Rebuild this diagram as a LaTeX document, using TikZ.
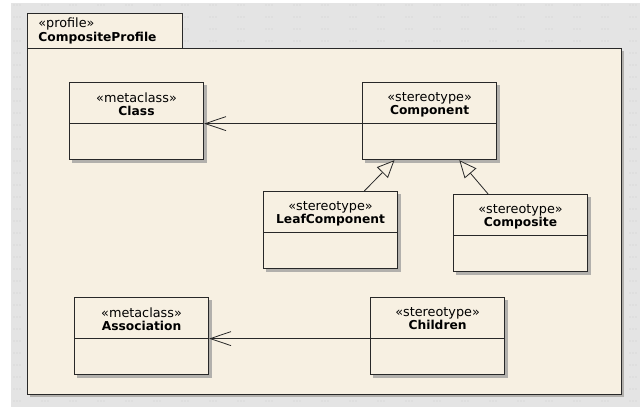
\documentclass[tikz,border=0pt]{standalone}
\usepackage{fontspec}
\setmainfont{DejaVu Sans}
\usepackage{tikz}
\usetikzlibrary{arrows.meta}
\usetikzlibrary{calc,positioning,shapes.multipart,backgrounds}

\definecolor{pkgfill}{RGB}{247,240,226}
\definecolor{canvas}{RGB}{228,228,228}
\definecolor{griddot}{RGB}{204,204,204}
\definecolor{umlline}{RGB}{40,40,40}
\definecolor{boxshadow}{RGB}{178,176,172}

% head of a class box: stereotype over bold name
\newcommand{\umlhead}[2]{\vbox to 30pt{\baselineskip=9.6pt\lineskiplimit=-20pt
  \vskip 7.2pt
  \hbox to 100.5pt{\hss\fontsize{9.6pt}{10pt}\selectfont «#1»\hss}
  \hbox to 100.5pt{\hss\fontsize{9.2pt}{10pt}\selectfont\bfseries #2\hss}\vss}}
\newcommand{\umlbody}{\rule{0pt}{26.25pt}}

\tikzset{
  umlbox/.style={rectangle split, rectangle split parts=2, draw=umlline,
    line width=0.8pt, fill=pkgfill, inner sep=0pt, anchor=north west},
  pkgtab/.style={draw=umlline, line width=0.8pt, fill=pkgfill, anchor=north west,
    minimum width=116.25pt, minimum height=26.25pt, inner sep=0pt,
    text width=110pt, align=left},
  assoc/.style={draw=umlline, line width=0.6pt, -{Straight Barb[length=15.5pt, width=10.5pt]}},
  gen/.style={draw=umlline, line width=0.6pt, -{Triangle[open, length=13pt, width=11.5pt, fill=pkgfill]}}
}

\begin{document}
\begin{tikzpicture}[x=0.75pt, y=-0.75pt]
    \useasboundingbox (0,0) rectangle (640,407);

    % classes
    \node[umlbox] (Class) at (69,82) {\umlhead{metaclass}{Class}\nodepart{two}\umlbody};
    \node[umlbox, right=118.5pt of Class] (Component) {\umlhead{stereotype}{Component}\nodepart{two}\umlbody};
    \node[umlbox] (LeafComponent) at (263,191) {\umlhead{stereotype}{LeafComponent}\nodepart{two}\umlbody};
    \node[umlbox] (Composite) at (453,194) {\umlhead{stereotype}{Composite}\nodepart{two}\umlbody};
    \node[umlbox] (Association) at (74,297) {\umlhead{metaclass}{Association}\nodepart{two}\umlbody};
    \node[umlbox, right=120.75pt of Association] (Children) {\umlhead{stereotype}{Children}\nodepart{two}\umlbody};

    % connectors
    \draw[assoc] (Component.text split west) -- (Class.text split east);
    \draw[assoc] (Children.text split west) -- (Association.text split east);
    \draw[gen] ($(LeafComponent.north west)!0.75!(LeafComponent.north east)$)
        -- ($(Component.south west)!0.24!(Component.south east)$);
    \draw[gen] ($(Composite.north west)!0.26!(Composite.north east)$)
        -- ($(Component.south west)!0.72!(Component.south east)$);

    \begin{pgfonlayer}{background}
        % canvas with its dot grid
        \fill[canvas] (11,3) rectangle (640,407);
        \foreach \gx in {14,42,...,640}
            \foreach \gy in {5,17,...,407} {
                \fill[griddot] (\gx,\gy) circle (0.4pt);
                \fill[griddot] (\gx+3,\gy) circle (0.4pt);
                \fill[griddot] (\gx+6,\gy) circle (0.4pt);
            }

        % package
        \fill[boxshadow] (30,51) rectangle (624,397);
        \node[draw=umlline, line width=0.8pt, fill=pkgfill, anchor=north west,
              minimum width=445.5pt, minimum height=259.5pt] (frame) at (27,48) {};
        \node[pkgtab] (tab) at (27,13)
            {\hspace*{5pt}\fontsize{9.6pt}{11pt}\selectfont «profile»\\[-1pt]
             \hspace*{5pt}\fontsize{9.2pt}{11pt}\selectfont\bfseries CompositeProfile};

        % shadows of the classes
        \foreach \n in {Class,Component,LeafComponent,Composite,Association,Children}
            \fill[boxshadow] ([shift={(3,3)}]\n.north west) rectangle ([shift={(3,3)}]\n.south east);
    \end{pgfonlayer}
\end{tikzpicture}
\end{document}
